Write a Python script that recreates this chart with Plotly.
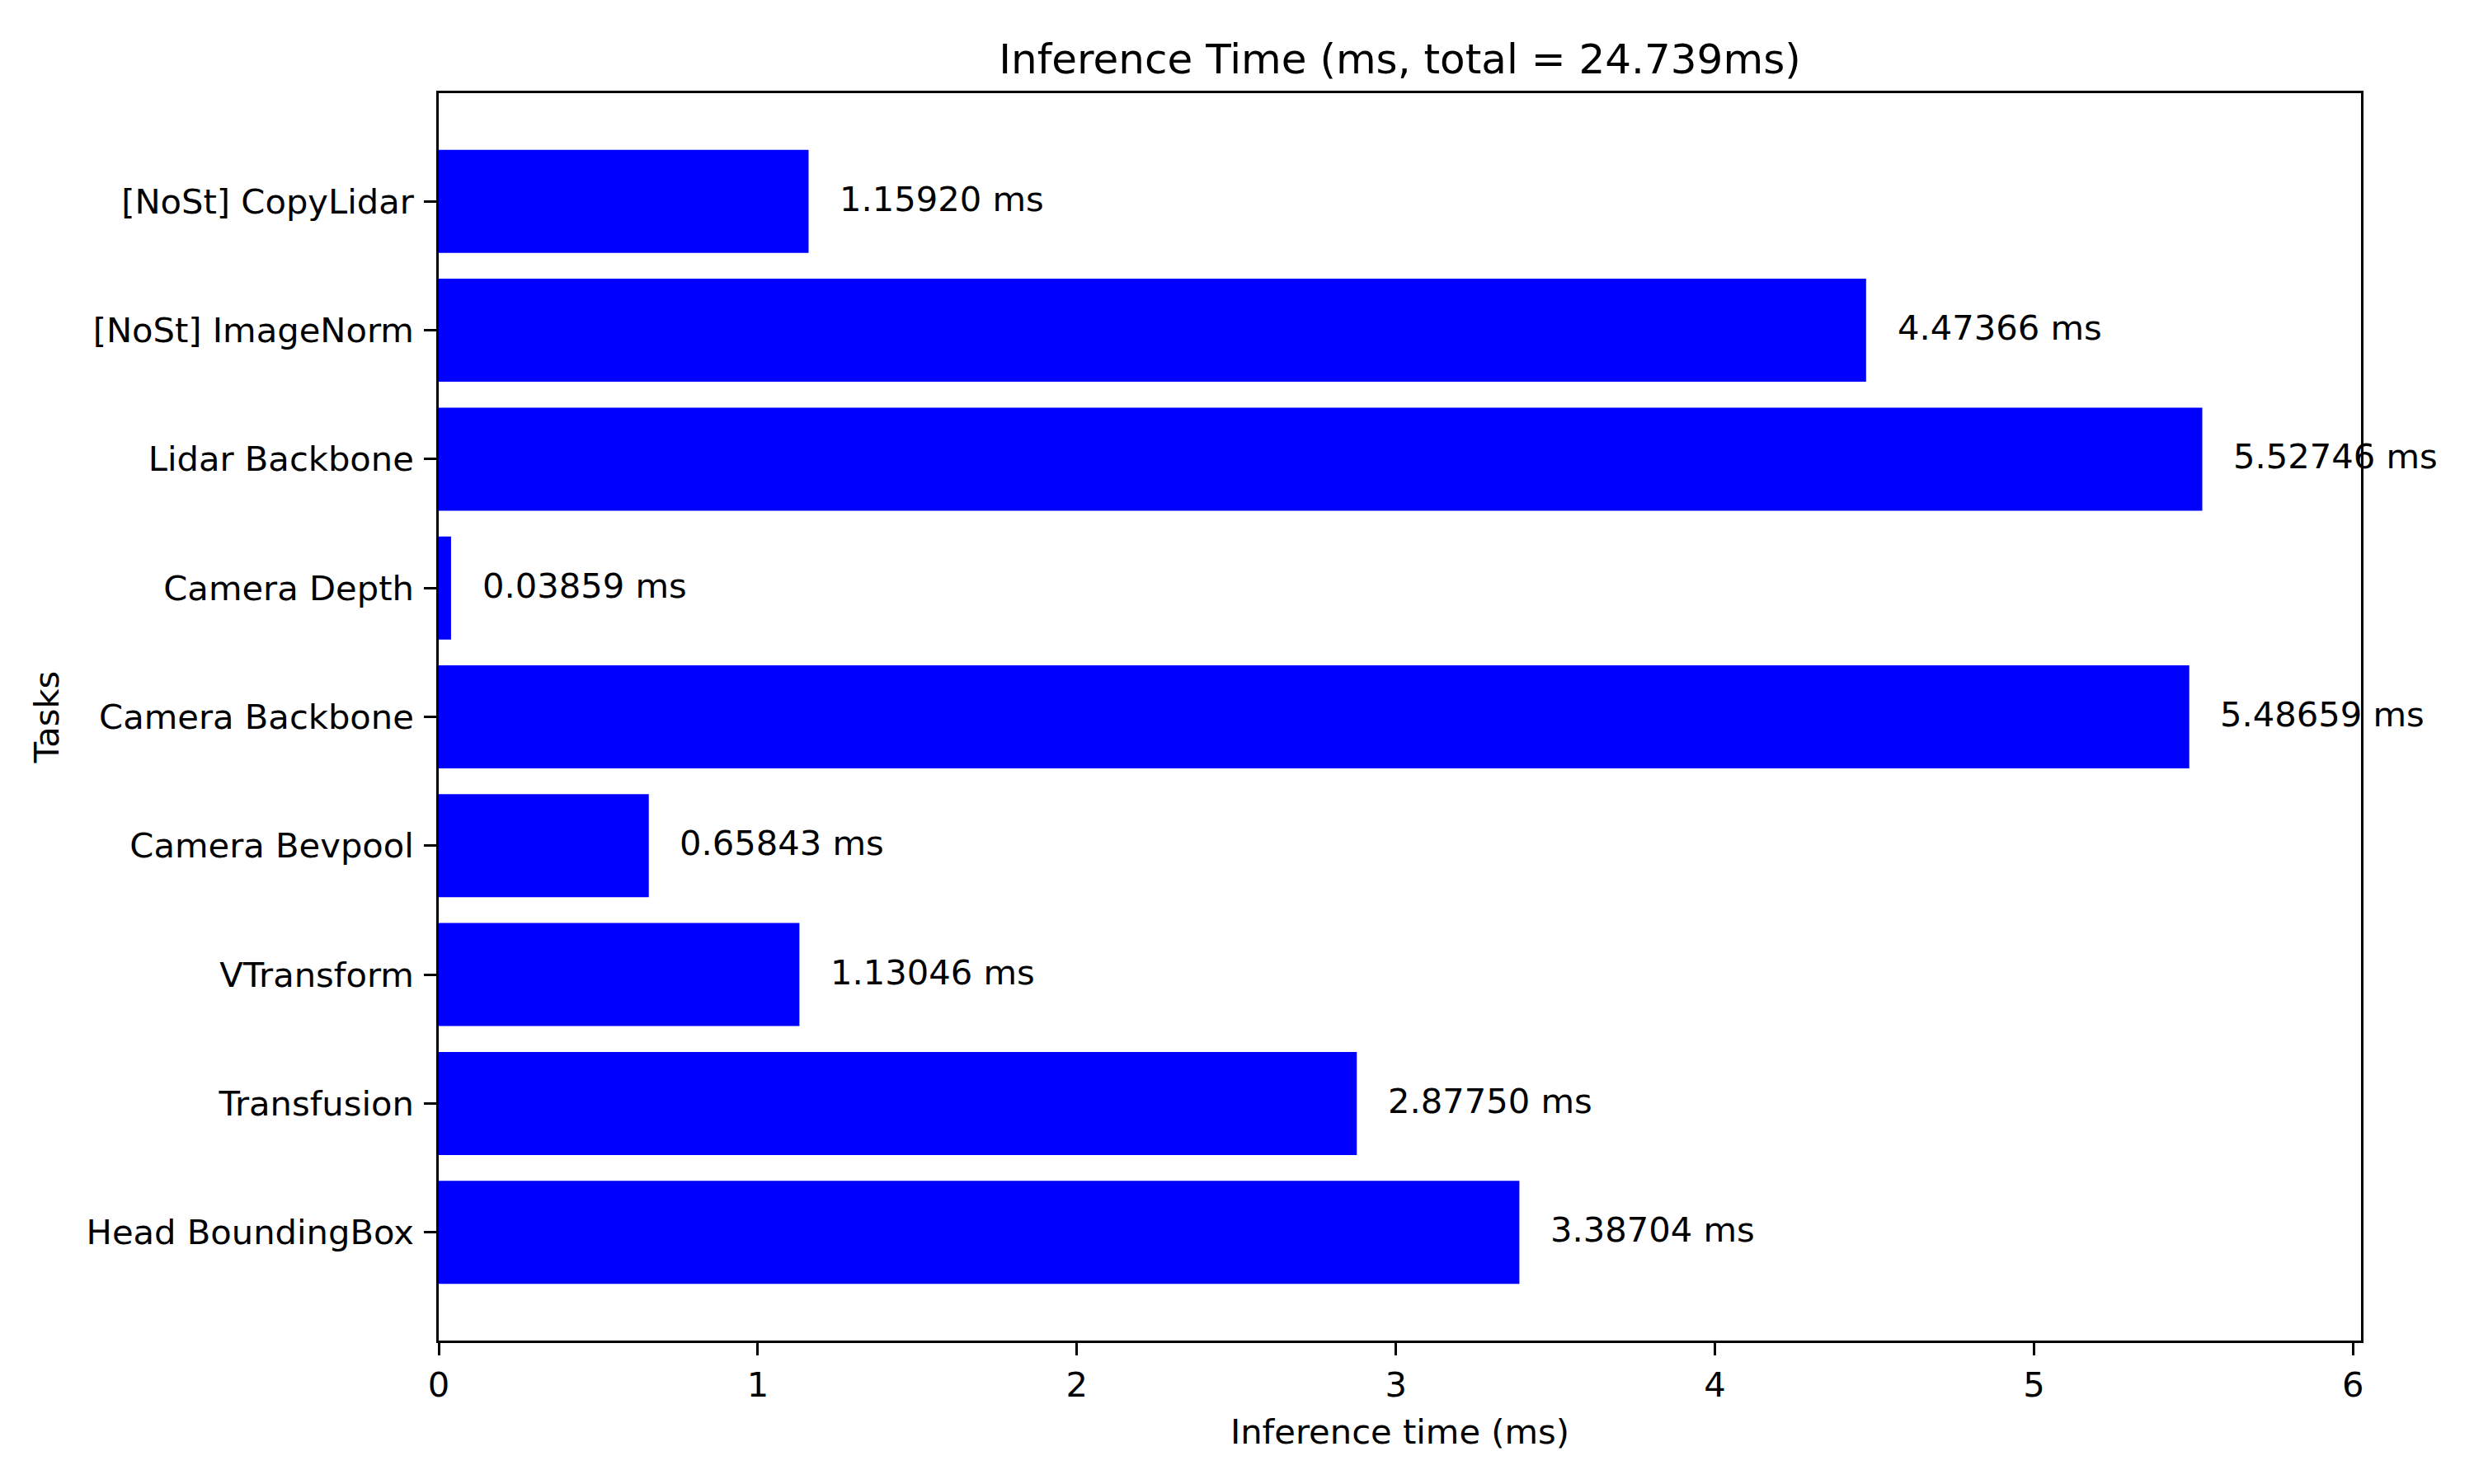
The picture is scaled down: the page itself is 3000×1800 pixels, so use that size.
import plotly.graph_objects as go

tasks = ["[NoSt] CopyLidar", "[NoSt] ImageNorm", "Lidar Backbone", "Camera Depth",
         "Camera Backbone", "Camera Bevpool", "VTransform", "Transfusion", "Head BoundingBox"]
times_ms = [1.15920, 4.47366, 5.52746, 0.03859, 5.48659, 0.65843, 1.13046, 2.87750, 3.38704]
x_ticks = [0, 1, 2, 3, 4, 5, 6]

total = sum(times_ms)
FONT = "DejaVu Sans"
FS = 41.67
LW = 3.33
TL = 14.6

fig = go.Figure()
fig.add_trace(go.Bar(
    x=times_ms, y=tasks, orientation="h", width=0.8,
    marker=dict(color="#0000ff", line=dict(width=0)),
    showlegend=False,
))

for t, v in zip(tasks, times_ms):
    fig.add_annotation(x=v + 0.1, y=t, xref="x", yref="y", text=f"{v:.5f} ms",
                       showarrow=False, xanchor="left", yanchor="middle",
                       xshift=-3, yshift=3,
                       font=dict(family=FONT, size=FS, color="black"))

n = len(tasks)
fig.update_layout(
    width=3000, height=1800,
    paper_bgcolor="white", plot_bgcolor="white",
    margin=dict(l=532, r=137, t=113, b=174, autoexpand=False),
    font=dict(family=FONT, size=FS, color="black"),
    title=dict(text=f"Inference Time (ms, total = {total:.3f}ms)",
               x=(532 + 2863) / 2 / 3000, xanchor="center",
               y=1 - 71 / 1800, yanchor="middle",
               font=dict(family=FONT, size=50, color="black")),
    xaxis=dict(range=[0, max(times_ms) * 1.09], tickvals=x_ticks,
               showline=True, linecolor="black", linewidth=LW, mirror=True,
               ticks="outside", ticklen=TL, tickwidth=LW, tickcolor="black",
               showgrid=False, zeroline=False,
               tickfont=dict(family=FONT, size=FS, color="black"),
               title=dict(text="Inference time (ms)", standoff=20,
                          font=dict(family=FONT, size=FS, color="black"))),
    yaxis=dict(type="category", categoryorder="array", categoryarray=tasks,
               range=[n - 1 + 0.84, -0.84],
               showline=True, linecolor="black", linewidth=LW, mirror=True,
               ticks="outside", ticklen=TL, tickwidth=LW, tickcolor="black",
               ticklabelstandoff=4,
               showgrid=False, zeroline=False,
               tickfont=dict(family=FONT, size=FS, color="black"),
               title=dict(text="Tasks", standoff=20,
                          font=dict(family=FONT, size=FS, color="black"))),
)

fig.write_html("out.html")
